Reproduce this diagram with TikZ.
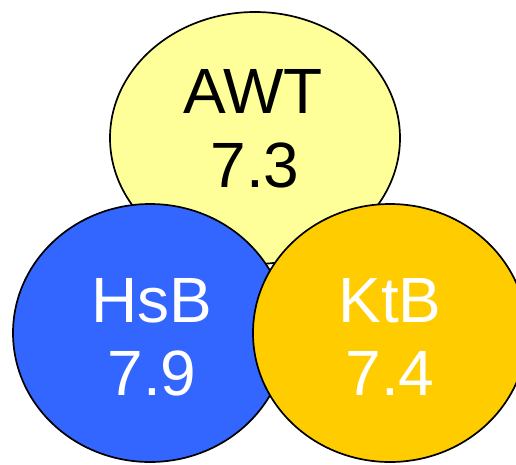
\documentclass[tikz,border=0pt]{standalone}
\usepackage{fontspec}
\setmainfont{Liberation Sans}
\usetikzlibrary{shapes.geometric}
\definecolor{awtfill}{HTML}{FFFF99}
\definecolor{hsbfill}{HTML}{3366FF}
\definecolor{ktbfill}{HTML}{FFCC00}
\begin{document}
\begin{tikzpicture}[x=1pt,y=-1pt,
  blob/.style={ellipse, draw=black, line width=1.7pt, inner sep=0pt, outer sep=0pt},
  caption/.style={anchor=base, inner sep=0pt, font=\fontsize{64}{74}\selectfont}]
  \useasboundingbox (0,0) rectangle (516,464);
  \clip (0,0) rectangle (516,464);
  % three overlapping groups, later ones on top
  \node[blob, fill=awtfill, minimum width=290pt, minimum height=252pt] (awt) at (255,138) {};
  \node[blob, fill=hsbfill, minimum width=274pt, minimum height=258pt] (hsb) at (150,333) {};
  \node[blob, fill=ktbfill, minimum width=274pt, minimum height=258pt] (ktb) at (390,333) {};
  % labels
  \node[caption, text=black] (awtname) at (253,113) {AWT};
  \node[caption, text=black] (awtval)  at (255,187) {7.3};
  \node[caption, text=white] (hsbname) at (152,322) {HsB};
  \node[caption, text=white] (hsbval)  at (152,395) {7.9};
  \node[caption, text=white] (ktbname) at (390,322) {KtB};
  \node[caption, text=white] (ktbval)  at (390,395) {7.4};
\end{tikzpicture}
\end{document}
